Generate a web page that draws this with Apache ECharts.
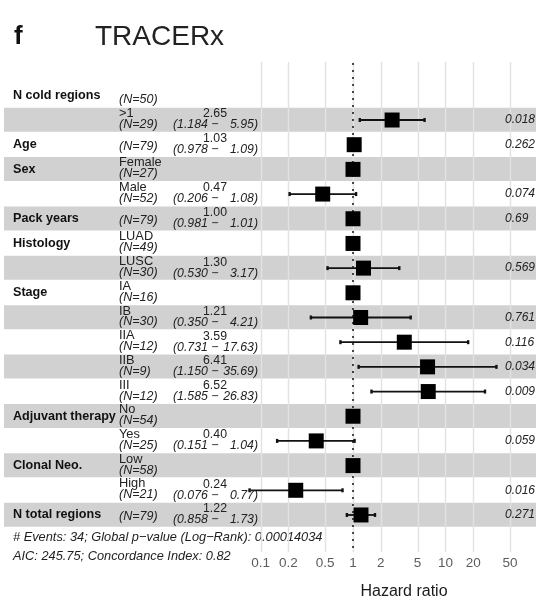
<!DOCTYPE html>
<html><head><meta charset="utf-8">
<script src="https://cdn.jsdelivr.net/npm/echarts@6/dist/echarts.min.js"></script>
<style>html,body{margin:0;padding:0;background:#fff}#c{width:542px;height:608px}</style>
</head><body><div id="c"></div>
<script>
// ---------------- data ----------------
const variables = ['N cold regions','','Age','Sex','','Pack years','Histology','','Stage','','','','','Adjuvant therapy','','Clonal Neo.','','N total regions'];
// null = continuous variable (no level line)
const levels = ['','>1',null,'Female','Male',null,'LUAD','LUSC','IA','IB','IIA','IIB','III','No','Yes','Low','High',null];
const nCounts = [50,29,79,27,52,79,49,30,16,30,12,9,12,54,25,58,21,79];
const hazardRatios = [null,2.65,1.03,1,0.47,1.00,1,1.30,1,1.21,3.59,6.41,6.52,1,0.40,1,0.24,1.22];
const ciLower = [null,1.184,0.978,null,0.206,0.981,null,0.530,null,0.350,0.731,1.150,1.585,null,0.151,null,0.076,0.858];
const ciUpper = [null,5.95,1.09,null,1.08,1.01,null,3.17,null,4.21,17.63,35.69,26.83,null,1.04,null,0.77,1.73];
const pValues = ['','0.018','0.262','','0.074','0.69','','0.569','','0.761','0.116','0.034','0.009','','0.059','','0.016','0.271'];
const tickValues = [0.1,0.2,0.5,1,2,5,10,20,50];
const tickLabels = ['0.1','0.2','0.5','1','2','5','10','20','50'];
const footnotes = ['# Events: 34; Global p\u2212value (Log\u2212Rank): 0.00014034','AIC: 245.75; Concordance Index: 0.82'];
const panelLabel = 'f';
const chartTitle = 'TRACERx';
const axisTitle = 'Hazard ratio';

// ---------------- layout ----------------
const GRID_LEFT = 4, GRID_RIGHT_PX = 536, GRID_TOP = 62, GRID_H = 490;
const PX_ONE = 353, PX_PER_DECADE = 92.4;
const X_MIN = Math.pow(10, (GRID_LEFT - PX_ONE) / PX_PER_DECADE);
const X_MAX = Math.pow(10, (GRID_RIGHT_PX - PX_ONE) / PX_PER_DECADE);
const Y_MIN = -0.35, Y_MAX = 19.5;
const FONT = '"Liberation Sans", Arial, Helvetica, sans-serif';
const TEXT_COL = '#222';

const rows = variables.map((v, i) => i);
const chart = echarts.init(document.getElementById('c'), null, {renderer: 'canvas'});

function txt(x, y, text, o) {
  o = o || {};
  return {
    type: 'text', x: x, y: y, silent: true,
    style: {
      text: text, fill: o.fill || TEXT_COL,
      fontSize: o.size || 12, fontFamily: FONT,
      fontWeight: o.weight || 'normal', fontStyle: o.style || 'normal',
      align: o.align || 'left', verticalAlign: 'middle',
      textAlign: o.align || 'left', textVerticalAlign: 'middle'
    }
  };
}

const option = {
  animation: false,
  grid: {left: GRID_LEFT, width: GRID_RIGHT_PX - GRID_LEFT, top: GRID_TOP, height: GRID_H, show: false},
  xAxis: {type: 'log', logBase: 10, min: X_MIN, max: X_MAX, show: false,
          axisLine: {show: false}, axisTick: {show: false}, axisLabel: {show: false}, splitLine: {show: false}},
  yAxis: {type: 'value', inverse: true, min: Y_MIN, max: Y_MAX, show: false,
          axisLine: {show: false}, axisTick: {show: false}, axisLabel: {show: false}, splitLine: {show: false}},
  graphic: [
    {type: 'text', x: 14, y: 37, silent: true, style: {text: panelLabel, fontSize: 26, fontWeight: 'bold', fontFamily: FONT, fill: '#111', align: 'left', verticalAlign: 'middle'}},
    {type: 'text', x: 95, y: 37, silent: true, style: {text: chartTitle, fontSize: 28, fontFamily: FONT, fill: '#222', align: 'left', verticalAlign: 'middle'}},
    {type: 'text', x: 13, y: 537, silent: true, style: {text: footnotes[0], fontSize: 12.8, fontStyle: 'italic', fontFamily: FONT, fill: '#1e1e1e', align: 'left', verticalAlign: 'middle'}},
    {type: 'text', x: 13, y: 556, silent: true, style: {text: footnotes[1], fontSize: 12.8, fontStyle: 'italic', fontFamily: FONT, fill: '#1e1e1e', align: 'left', verticalAlign: 'middle'}},
    {type: 'text', x: 404, y: 592, silent: true, style: {text: axisTitle, fontSize: 16, fontFamily: FONT, fill: '#1a1a1a', align: 'center', verticalAlign: 'middle'}}
  ],
  series: [
    // alternating bands
    {
      type: 'custom', z: 1, silent: true,
      data: rows.filter(i => i % 2 === 1).map(i => [1, i + 1]),
      renderItem: function (params, api) {
        const cs = params.coordSys;
        const y0 = api.coord([1, api.value(1) - 0.5])[1];
        const y1 = api.coord([1, api.value(1) + 0.5])[1];
        return {type: 'rect', shape: {x: cs.x, y: y0, width: cs.width, height: y1 - y0 - 0.6},
                style: {fill: '#d1d1d1'}};
      }
    },
    // vertical grid lines
    {
      type: 'custom', z: 2, silent: true,
      data: tickValues.map(v => [v]),
      renderItem: function (params, api) {
        const p0 = api.coord([api.value(0), Y_MIN]);
        const p1 = api.coord([api.value(0), Y_MAX]);
        return {type: 'line', shape: {x1: Math.round(p0[0]) + 0.5, y1: p0[1], x2: Math.round(p1[0]) + 0.5, y2: p1[1]},
                style: {stroke: '#e2e2e2', lineWidth: 1.4}};
      }
    },
    // tick labels
    {
      type: 'custom', z: 3, silent: true,
      data: tickValues.map((v, i) => [v, i]),
      renderItem: function (params, api) {
        const cs = params.coordSys;
        const p = api.coord([api.value(0), Y_MAX]);
        return txt(p[0], cs.y + cs.height + 11, tickLabels[api.value(1)], {size: 13.5, fill: '#5c5c5c', align: 'center'});
      }
    },
    // reference dotted line at HR = 1
    {
      type: 'custom', z: 4, silent: true,
      data: [[1]],
      renderItem: function (params, api) {
        const p0 = api.coord([api.value(0), Y_MIN]);
        const p1 = api.coord([api.value(0), Y_MAX]);
        return {type: 'line', shape: {x1: p0[0], y1: p0[1] + 2, x2: p1[0], y2: p1[1]},
                style: {stroke: '#111', lineWidth: 2, lineDash: [0.1, 6.9], lineCap: 'round'}};
      }
    },
    // confidence intervals
    {
      type: 'custom', z: 5, silent: true,
      data: rows.filter(i => ciLower[i] != null).map(i => [ciLower[i], ciUpper[i], i + 1]),
      renderItem: function (params, api) {
        const a = api.coord([api.value(0), api.value(2)]);
        const b = api.coord([api.value(1), api.value(2)]);
        return {type: 'group', children: [
          {type: 'line', shape: {x1: a[0], y1: a[1], x2: b[0], y2: b[1]}, style: {stroke: '#111', lineWidth: 1.8}},
          {type: 'rect', shape: {x: a[0] - 1.2, y: a[1] - 2, width: 2.4, height: 4}, style: {fill: '#111'}},
          {type: 'rect', shape: {x: b[0] - 1.2, y: b[1] - 2, width: 2.4, height: 4}, style: {fill: '#111'}}
        ]};
      }
    },
    // point estimates
    {
      type: 'custom', z: 6, silent: true,
      data: rows.filter(i => hazardRatios[i] != null).map(i => [hazardRatios[i], i + 1]),
      renderItem: function (params, api) {
        const p = api.coord([api.value(0), api.value(1)]);
        const s = 15;
        return {type: 'rect', shape: {x: p[0] - s / 2, y: p[1] - s / 2, width: s, height: s}, style: {fill: '#000'}};
      }
    },
    // table text
    {
      type: 'custom', z: 7, silent: true,
      data: rows.map(i => [1, i + 1, i]),
      renderItem: function (params, api) {
        const i = api.value(2);
        const cy = api.coord([1, api.value(1)])[1];
        const kids = [];
        if (variables[i]) kids.push(txt(13, cy, variables[i], {weight: 'bold', size: 12.6, fill: '#111'}));
        if (levels[i] === null) {
          kids.push(txt(119, cy + 1.5, '(N=' + nCounts[i] + ')', {style: 'italic', size: 12.5}));
        } else {
          if (levels[i]) kids.push(txt(119, cy - 6.5, levels[i], {size: 12.8}));
          kids.push(txt(119, cy + 4.5, '(N=' + nCounts[i] + ')', {style: 'italic', size: 12.5}));
        }
        if (ciLower[i] != null) {
          kids.push(txt(215, cy - 6, hazardRatios[i].toFixed(2), {size: 12.3, align: 'center'}));
          kids.push(txt(173, cy + 5, '(' + ciLower[i].toFixed(3) + ' \u2212', {style: 'italic', size: 12.3}));
          kids.push(txt(258, cy + 5, ciUpper[i].toFixed(2) + ')', {style: 'italic', size: 12.3, align: 'right'}));
        }
        if (pValues[i]) kids.push(txt(505, cy, pValues[i], {style: 'italic', size: 12}));
        return {type: 'group', children: kids};
      }
    }
  ]
};
chart.setOption(option);
</script>
</body></html>
